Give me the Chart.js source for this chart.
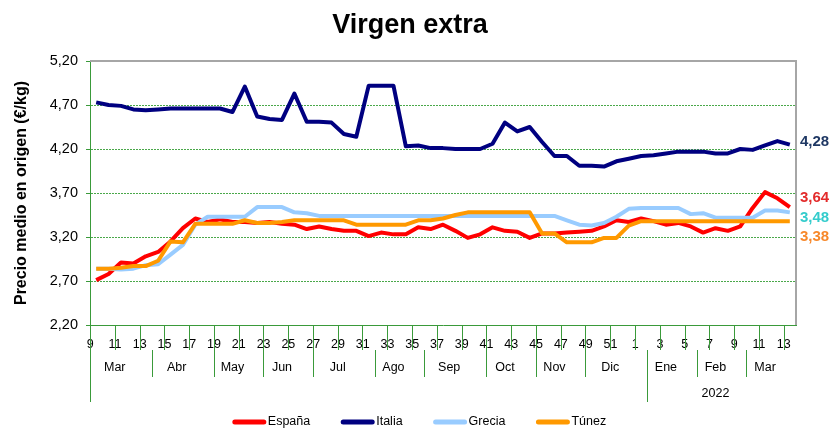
<!DOCTYPE html>
<html>
<head>
<meta charset="utf-8">
<script src="https://cdn.jsdelivr.net/npm/chart.js@4.4.1/dist/chart.umd.min.js"></script>
<style>
  html, body { margin: 0; padding: 0; background: #fff; }
  #wrap { width: 833px; height: 429px; position: relative; }
</style>
</head>
<body>
<div id="wrap"><canvas id="chart"></canvas></div>
<script>
// Semanas: 9-52 de 2021 y 1-13 de 2022
const weeks = ['9','10','11','12','13','14','15','16','17','18','19','20','21','22','23','24','25','26',
    '27','28','29','30','31','32','33','34','35','36','37','38','39','40','41','42','43','44','45','46',
    '47','48','49','50','51','52','1','2','3','4','5','6','7','8','9','10','11','12','13'];

const months = ['Mar','Abr','May','Jun','Jul','Ago','Sep','Oct','Nov','Dic','Ene','Feb','Mar'];
const monthStart = [0, 5, 10, 14, 18, 23, 27, 32, 36, 40, 45, 49, 53];
const years = ['', '2022'];
const yearStart = [0, 45];

const espana = [2.71,2.78,2.91,2.90,2.98,3.03,3.15,3.30,3.41,3.37,
    3.40,3.37,3.37,3.36,3.37,3.35,3.34,3.29,3.32,3.29,
    3.27,3.27,3.21,3.25,3.23,3.23,3.31,3.29,3.34,3.27,
    3.19,3.23,3.31,3.27,3.26,3.19,3.24,3.24,3.25,3.26,
    3.27,3.32,3.39,3.37,3.41,3.38,3.34,3.36,3.32,3.25,
    3.30,3.27,3.32,3.53,3.71,3.64,3.54];
const italia = [4.73,4.70,4.69,4.65,4.64,4.65,4.66,4.66,4.66,4.66,
    4.66,4.62,4.91,4.57,4.54,4.53,4.83,4.51,4.51,4.50,
    4.37,4.34,4.92,4.92,4.92,4.23,4.24,4.21,4.21,4.20,
    4.20,4.20,4.26,4.50,4.40,4.45,4.28,4.12,4.12,4.01,
    4.01,4.00,4.06,4.09,4.12,4.13,4.15,4.17,4.17,4.17,
    4.15,4.15,4.20,4.19,4.24,4.29,4.25];
const grecia = [2.84,2.84,2.83,2.84,2.88,2.89,3.00,3.11,3.34,3.43,
    3.43,3.43,3.43,3.54,3.54,3.54,3.48,3.47,3.44,3.44,
    3.44,3.44,3.44,3.44,3.44,3.44,3.44,3.44,3.44,3.44,
    3.44,3.44,3.44,3.44,3.44,3.44,3.44,3.44,3.39,3.34,
    3.33,3.36,3.43,3.52,3.53,3.53,3.53,3.53,3.46,3.47,
    3.42,3.42,3.42,3.42,3.50,3.50,3.48];
const tunez = [2.84,2.84,2.85,2.87,2.87,2.93,3.15,3.14,3.35,3.35,
    3.35,3.35,3.39,3.36,3.36,3.37,3.39,3.39,3.39,3.39,
    3.39,3.34,3.34,3.34,3.34,3.34,3.39,3.39,3.41,3.45,
    3.48,3.48,3.48,3.48,3.48,3.48,3.24,3.24,3.14,3.14,
    3.14,3.19,3.19,3.33,3.38,3.38,3.38,3.38,3.38,3.38,
    3.38,3.38,3.38,3.38,3.38,3.38,3.38];

// Últimos valores anotados a la derecha
const lastLabels = ['4,28', '3,64', '3,48', '3,38'];
const lastValues = [4.28, 3.64, 3.48, 3.38];

const FONT = '"Liberation Sans", Arial, sans-serif';
const GREEN = '#3a9a3a';
const GRID = '#4aa84a';
const noteColors = ['#1f3864', '#e32b2b', '#33cccc', '#f7882a'];

const extras = {
    id: 'extras',
    beforeDatasetsDraw(chart) {
        const { ctx, chartArea: a } = chart;
        ctx.save();
        ctx.strokeStyle = '#a6a6a6';
        ctx.lineWidth = 2;
        ctx.beginPath();
        ctx.moveTo(a.left, a.top);
        ctx.lineTo(a.right, a.top);
        ctx.lineTo(a.right, a.bottom);
        ctx.stroke();
        ctx.restore();
    },
    afterDraw(chart) {
        const { ctx, chartArea: a, scales: { x, y } } = chart;
        const step = x.getPixelForValue(1) - x.getPixelForValue(0);
        const edge = i => Math.round(x.getPixelForValue(0) + (i - 0.5) * step) + 0.5;
        ctx.save();

        // titulo
        ctx.fillStyle = '#000';
        ctx.font = 'bold 27px ' + FONT;
        ctx.textAlign = 'center';
        ctx.textBaseline = 'middle';
        ctx.fillText('Virgen extra', 410, 26);

        // marcas de semana, separadores de mes y de año
        ctx.strokeStyle = GREEN;
        ctx.lineWidth = 1;
        ctx.beginPath();
        for (let i = 2; i < weeks.length; i += 2) {
            ctx.moveTo(edge(i), a.bottom);
            ctx.lineTo(edge(i), a.bottom + 25);
        }
        monthStart.forEach(s => {
            ctx.moveTo(edge(s), a.bottom + 25);
            ctx.lineTo(edge(s), a.bottom + 52);
        });
        yearStart.forEach(s => {
            ctx.moveTo(edge(s), s === 0 ? a.bottom : a.bottom + 25);
            ctx.lineTo(edge(s), a.bottom + 77);
        });
        ctx.stroke();

        ctx.fillStyle = '#000';
        ctx.font = '12.5px ' + FONT;
        months.forEach((m, k) => {
            const end = k + 1 < monthStart.length ? monthStart[k + 1] : weeks.length;
            const mid = (monthStart[k] + end - 1) / 2;
            ctx.fillText(m, x.getPixelForValue(mid) - step / 2, a.bottom + 43);
        });
        years.forEach((t, k) => {
            const end = k + 1 < yearStart.length ? yearStart[k + 1] : weeks.length;
            const mid = (yearStart[k] + end - 1) / 2;
            ctx.fillText(t, x.getPixelForValue(mid) - step / 2, a.bottom + 69);
        });

        // anotaciones de los últimos valores
        ctx.font = 'bold 15px ' + FONT;
        ctx.textAlign = 'left';
        let prev = -Infinity;
        lastLabels.forEach((t, k) => {
            let py = Math.max(y.getPixelForValue(lastValues[k]), prev + 19.5);
            prev = py;
            ctx.fillStyle = noteColors[k];
            ctx.fillText(t, a.right + 4, py);
        });

        // leyenda
        ctx.font = '12.5px ' + FONT;
        const ds = chart.data.datasets;
        const lineW = 33, gap = 2, spacing = 31;
        let total = 0;
        ds.forEach((d, k) => {
            total += lineW + gap + ctx.measureText(d.label).width + (k ? spacing : 0);
        });
        let lx = 419.5 - total / 2;
        const ly = 422;
        ds.forEach(d => {
            ctx.strokeStyle = d.borderColor;
            ctx.lineWidth = 5;
            ctx.lineCap = 'round';
            ctx.beginPath();
            ctx.moveTo(lx + 2, ly);
            ctx.lineTo(lx + lineW - 2, ly);
            ctx.stroke();
            ctx.fillStyle = '#000';
            ctx.fillText(d.label, lx + lineW + gap, ly);
            lx += lineW + gap + ctx.measureText(d.label).width + spacing;
        });
        ctx.restore();
    }
};

function series(label, data, color, order) {
    return {
        label: label,
        data: data,
        borderColor: color,
        backgroundColor: color,
        borderWidth: 4,
        borderJoinStyle: 'round',
        pointRadius: 0,
        tension: 0,
        order: order
    };
}

new Chart(document.getElementById('chart'), {
    type: 'line',
    data: {
        labels: weeks,
        datasets: [
            series('España', espana, '#ff0000', 4),
            series('Italia', italia, '#000080', 3),
            series('Grecia', grecia, '#99ccff', 2),
            series('Túnez', tunez, '#ff9900', 1)
        ]
    },
    options: {
        responsive: true,
        maintainAspectRatio: false,
        animation: false,
        layout: { padding: { left: 8, right: 37, top: 61, bottom: 69 } },
        plugins: {
            legend: { display: false },
            title: { display: false },
            tooltip: { enabled: false }
        },
        scales: {
            x: {
                offset: true,
                grid: { display: false },
                border: { display: true, color: GREEN, width: 1 },
                ticks: {
                    autoSkip: false,
                    maxRotation: 0,
                    minRotation: 0,
                    labelOffset: -6,
                    padding: 4,
                    color: '#000',
                    font: { family: FONT, size: 12.5 },
                    callback: (v, i) => (i % 2 === 0 ? weeks[i] : '')
                },
                afterFit: scale => { scale.height = 35; }
            },
            y: {
                min: 2.2,
                max: 5.2,
                ticks: {
                    stepSize: 0.5,
                    padding: 8,
                    color: '#000',
                    font: { family: FONT, size: 14.5 },
                    callback: v => v.toFixed(2).replace('.', ',')
                },
                grid: {
                    color: ctx => (ctx.index === 0 || ctx.index === 6 ? 'rgba(0,0,0,0)' : GRID),
                    tickColor: GREEN,
                    tickLength: 4,
                    lineWidth: 1
                },
                border: { display: true, color: GREEN, width: 1, dash: [2, 1] },
                title: {
                    display: true,
                    text: 'Precio medio en origen (€/kg)',
                    color: '#000',
                    font: { family: FONT, size: 16, weight: 'bold' },
                    padding: { top: 4, bottom: 0 }
                },
                afterFit: scale => { scale.width = 82; }
            }
        }
    },
    plugins: [extras]
});
</script>
</body>
</html>
